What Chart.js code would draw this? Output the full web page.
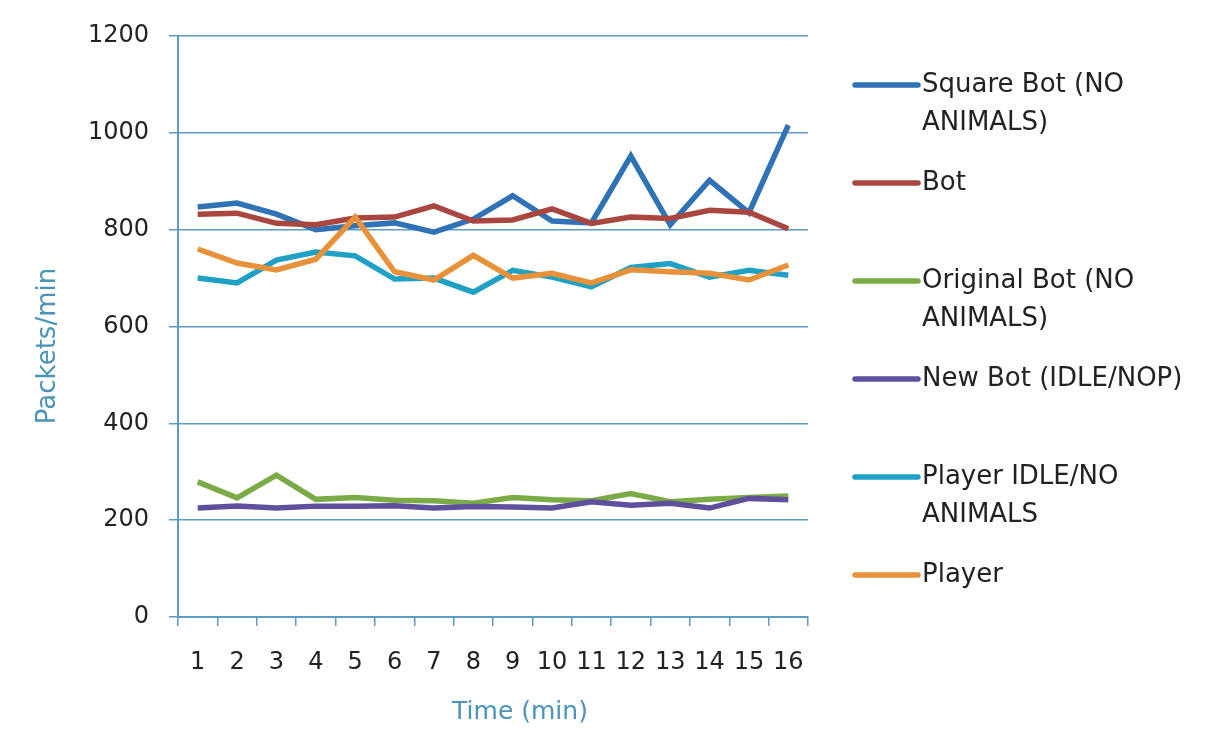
<!DOCTYPE html>
<html>
<head>
<meta charset="utf-8">
<script src="https://cdn.jsdelivr.net/npm/chart.js@4/dist/chart.umd.min.js"></script>
<style>
  html, body { margin: 0; padding: 0; background: #fff; }
  #wrap { width: 1214px; height: 754px; }
</style>
</head>
<body>
<div id="wrap"><canvas id="chart" width="1214" height="754"></canvas></div>
<script>
// --- Data ---
const minutes = ['1', '2', '3', '4', '5', '6', '7', '8', '9', '10', '11', '12', '13', '14', '15', '16'];
const yTicks = [0, 200, 400, 600, 800, 1000, 1200];

const squareBot   = [847, 855, 832, 800, 808, 814, 795, 822, 870, 818, 814, 952, 810, 902, 835, 1016];
const bot         = [832, 834, 813, 810, 824, 826, 849, 818, 820, 843, 813, 826, 823, 840, 836, 802];
const originalBot = [279, 246, 293, 243, 247, 241, 240, 235, 247, 242, 240, 255, 238, 243, 247, 250];
const newBot      = [225, 229, 225, 229, 229, 230, 225, 228, 227, 225, 238, 231, 235, 225, 245, 242];
const playerIdle  = [700, 690, 737, 754, 746, 698, 700, 671, 716, 702, 682, 722, 730, 702, 716, 706];
const player      = [760, 731, 717, 739, 826, 713, 696, 747, 700, 710, 690, 717, 713, 710, 696, 727];

const seriesNames = ['Square Bot (NO ANIMALS)', 'Bot', 'Original Bot (NO ANIMALS)', 'New Bot (IDLE/NOP)', 'Player IDLE/NO ANIMALS', 'Player'];
const seriesData = [squareBot, bot, originalBot, newBot, playerIdle, player];
const seriesColors = ['#2f72b6', '#a9463f', '#7bab46', '#5f4f9d', '#21a0c6', '#e8913b'];

const xTitle = 'Time (min)';
const yTitle = 'Packets/min';

const AXIS_BLUE = '#5a9cc2';
const TITLE_BLUE = '#4b93ba';
const FONT = 'DejaVu Sans';

// --- Legend on the right (word wrapped) + axis titles ---
const sideLegend = {
  id: 'sideLegend',
  afterDraw(chart) {
    const ctx = chart.ctx;
    const maxW = 285;
    const lineH = 38;
    let y = 85;
    ctx.save();
    ctx.font = '26px "' + FONT + '"';
    ctx.textBaseline = 'middle';
    chart.data.datasets.forEach(ds => {
      const words = ds.label.split(' ');
      const lines = [];
      let cur = '';
      words.forEach(w => {
        const test = cur ? cur + ' ' + w : w;
        if (ctx.measureText(test).width > maxW && cur) {
          lines.push(cur);
          cur = w;
        } else {
          cur = test;
        }
      });
      lines.push(cur);

      ctx.strokeStyle = ds.borderColor;
      ctx.lineWidth = 5.5;
      ctx.lineCap = 'round';
      ctx.beginPath();
      ctx.moveTo(855, y);
      ctx.lineTo(918, y);
      ctx.stroke();

      ctx.fillStyle = '#222';
      lines.forEach((ln, i) => ctx.fillText(ln, 922, y + i * lineH));
      y += 98;
    });

    // axis titles
    ctx.fillStyle = TITLE_BLUE;
    ctx.font = '25px "' + FONT + '"';
    ctx.textAlign = 'center';
    ctx.fillText(xTitle, 520, 712);
    ctx.translate(48, 346);
    ctx.rotate(-Math.PI / 2);
    ctx.font = '26px "' + FONT + '"';
    ctx.fillText(yTitle, 0, 0);
    ctx.restore();
  }
};

const datasets = seriesNames.map((name, i) => ({
  label: name,
  data: seriesData[i],
  borderColor: seriesColors[i],
  backgroundColor: seriesColors[i],
  borderWidth: 5.5,
  pointRadius: 0,
  tension: 0,
  order: seriesNames.length - i,
}));

new Chart(document.getElementById('chart'), {
  type: 'line',
  data: { labels: minutes, datasets },
  plugins: [sideLegend],
  options: {
    responsive: false,
    animation: false,
    events: [],
    layout: { padding: { top: 36, right: 406, bottom: 0, left: 0 } },
    plugins: {
      legend: { display: false },
      tooltip: { enabled: false },
    },
    scales: {
      x: {
        offset: true,
        afterFit(scale) { scale.height = 137; },
        grid: {
          offset: true,
          drawOnChartArea: false,
          drawTicks: true,
          tickLength: 9,
          color: AXIS_BLUE,
          lineWidth: 1.5,
        },
        border: { color: AXIS_BLUE, width: 2 },
        ticks: { color: '#222', font: { family: FONT, size: 24 }, padding: 22, maxRotation: 0, autoSkip: false },
      },
      y: {
        min: 0,
        max: 1200,
        afterFit(scale) { scale.width = 178; },
        afterBuildTicks(scale) { scale.ticks = yTicks.map(v => ({ value: v })); },
        grid: {
          color: AXIS_BLUE,
          lineWidth: 1.5,
          tickLength: 9,
        },
        border: { color: AXIS_BLUE, width: 2 },
        ticks: {
          color: '#222',
          font: { family: FONT, size: 24 },
          padding: 20,
          callback: v => String(v),
        },
      },
    },
  },
});
</script>
</body>
</html>
